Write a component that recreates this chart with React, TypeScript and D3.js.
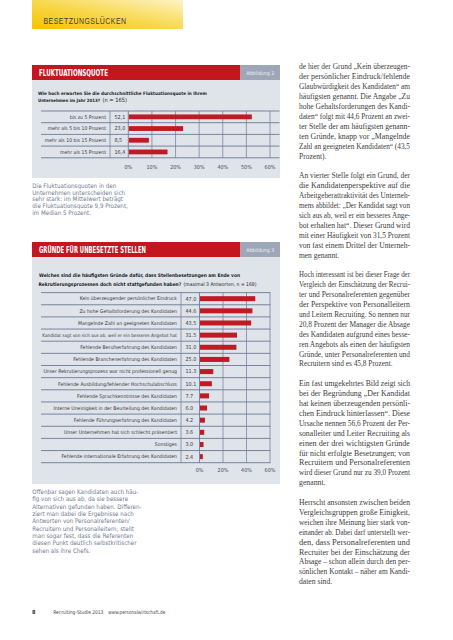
import React, { useEffect, useRef } from "react";
import * as d3 from "d3";

const W = 453;
const H = 640;

// ---------- data ----------
const fluktCategories = [
  "bis zu 5 Prozent",
  "mehr als 5 bis 10 Prozent",
  "mehr als 10 bis 15 Prozent",
  "mehr als 15 Prozent",
];
const fluktValues = [52.1, 23.0, 8.5, 16.4];
const fluktTicks = [0, 10, 20, 30, 40, 50, 60];

const reasonCategories = [
  "Kein überzeugender persönlicher Eindruck",
  "Zu hohe Gehaltsforderung des Kandidaten",
  "Mangelnde Zahl an geeigneten Kandidaten",
  "Kandidat sagt von sich aus ab, weil er ein besseres Angebot hat",
  "Fehlende Berufserfahrung des Kandidaten",
  "Fehlende Branchenerfahrung des Kandidaten",
  "Unser Rekrutierungsprozess war nicht professionell genug",
  "Fehlende Ausbildung/fehlender Hochschulabschluss",
  "Fehlende Sprachkenntnisse des Kandidaten",
  "Interne Uneinigkeit in der Beurteilung des Kandidaten",
  "Fehlende Führungserfahrung des Kandidaten",
  "Unser Unternehmen hat sich schlecht präsentiert",
  "Sonstiges",
  "Fehlende internationale Erfahrung des Kandidaten",
];
const reasonValues = [47.0, 44.6, 43.5, 31.5, 31.0, 25.0, 11.3, 10.1, 7.7, 6.0, 4.2, 3.6, 3.0, 2.4];
const reasonTicks = [0, 20, 40, 60];

const caption1 = [
  "Die Fluktuationsquoten in den",
  "Unternehmen unterscheiden sich",
  "sehr stark: im Mittelwert beträgt",
  "die Fluktuationsquote 9,9 Prozent,",
  "im Median 5 Prozent.",
];
const caption2 = [
  "Offenbar sagen Kandidaten auch häu-",
  "fig von sich aus ab, da sie bessere",
  "Alternativen gefunden haben. Differen-",
  "ziert man dabei die Ergebnisse nach",
  "Antworten von Personalreferenten/",
  "Recruitern und Personalleitern, stellt",
  "man sogar fest, dass die Referenten",
  "diesen Punkt deutlich selbstkritischer",
  "sehen als ihre Chefs.",
];

const bodyParagraphs = [
  [
    "de hier der Grund „Kein überzeugen-",
    "der persönlicher Eindruck/fehlende",
    "Glaubwürdigkeit des Kandidaten“ am",
    "häufigsten genannt. Die Angabe „Zu",
    "hohe Gehaltsforderungen des Kandi-",
    "daten“ folgt mit 44,6 Prozent an zwei-",
    "ter Stelle der am häufigsten genann-",
    "ten Gründe, knapp vor „Mangelnde",
    "Zahl an geeigneten Kandidaten“ (43,5",
    "Prozent).",
  ],
  [
    "An vierter Stelle folgt ein Grund, der",
    "die Kandidatenperspektive auf die",
    "Arbeitgeberattraktivität des Unterneh-",
    "mens abbildet: „Der Kandidat sagt von",
    "sich aus ab, weil er ein besseres Ange-",
    "bot erhalten hat“. Dieser Grund wird",
    "mit einer Häufigkeit von 31,5 Prozent",
    "von fast einem Drittel der Unterneh-",
    "men genannt.",
  ],
  [
    "Hoch interessant ist bei dieser Frage der",
    "Vergleich der Einschätzung der Recrui-",
    "ter und Personalreferenten gegenüber",
    "der Perspektive von Personalleitern",
    "und Leitern Recruiting. So nennen nur",
    "20,8 Prozent der Manager die Absage",
    "des Kandidaten aufgrund eines besse-",
    "ren Angebots als einen der häufigsten",
    "Gründe, unter Personalreferenten und",
    "Recruitern sind es 45,8 Prozent.",
  ],
  [
    "Ein fast umgekehrtes Bild zeigt sich",
    "bei der Begründung „Der Kandidat",
    "hat keinen überzeugenden persönli-",
    "chen Eindruck hinterlassen“. Diese",
    "Ursache nennen 56,6 Prozent der Per-",
    "sonalleiter und Leiter Recruiting als",
    "einen der drei wichtigsten Gründe",
    "für nicht erfolgte Besetzungen; von",
    "Recruitern und Personalreferenten",
    "wird dieser Grund nur zu 39,0 Prozent",
    "genannt.",
  ],
  [
    "Herrscht ansonsten zwischen beiden",
    "Vergleichsgruppen große Einigkeit,",
    "weichen ihre Meinung hier stark von-",
    "einander ab. Dabei darf unterstellt wer-",
    "den, dass Personalreferenten und",
    "Recruiter bei der Einschätzung der",
    "Absage – schon allein durch den per-",
    "sönlichen Kontakt – näher am Kandi-",
    "daten sind.",
  ],
];

// ---------- styles ----------
const SANS = "'Liberation Sans Narrow','DejaVu Sans Condensed','Roboto Condensed',Roboto,'Liberation Sans',sans-serif";
const SERIF = "'Liberation Serif','DejaVu Serif',serif";
const RED = "#c4161f";
const BAR = "#c01a24";
const PANEL = "#dfe3ea";
const GRID = "#7a88a2";
const ABB = "#9ea7b8";
const CAPTION = "#6f7b91";

type Sel = d3.Selection<any, any, any, any>;

function shrinkToFit(t: Sel, maxW: number, size: number) {
  const n = t.node() as SVGTextElement;
  const w = n.getComputedTextLength();
  if (w > maxW) t.attr("font-size", (size * maxW) / w);
}
function sizeToWidth(t: Sel, target: number, size: number) {
  const n = t.node() as SVGTextElement;
  const w = n.getComputedTextLength();
  if (w > 0) t.attr("font-size", (size * target) / w);
}
function fitExact(t: Sel, w: number) {
  t.attr("textLength", w).attr("lengthAdjust", "spacingAndGlyphs");
}

interface BarCfg {
  cats: string[];
  vals: number[];
  ticks: number[];
  top: number;
  rowH: number;
  left: number;
  colX: number;
  x0: number;
  x60: number;
  lineRight: number;
  barH: number;
  tickY: number;
  fmt: (v: number) => string;
}

function drawBars(svg: Sel, c: BarCfg) {
  const g = svg.append("g");
  const bottom = c.top + c.rowH * c.cats.length;
  const y = d3.scaleBand<string>().domain(c.cats).range([c.top, bottom]).padding(0);
  const x = d3.scaleLinear().domain([0, 60]).range([c.x0, c.x60]);

  g.selectAll("line.vg")
    .data(c.ticks)
    .join("line")
    .attr("x1", (d) => x(d))
    .attr("x2", (d) => x(d))
    .attr("y1", c.top)
    .attr("y2", bottom)
    .attr("stroke", GRID)
    .attr("stroke-width", (d) => (d === 0 ? 1 : 0.8));
  g.append("line")
    .attr("x1", c.colX)
    .attr("x2", c.colX)
    .attr("y1", c.top)
    .attr("y2", bottom)
    .attr("stroke", GRID)
    .attr("stroke-width", 0.8);
  g.selectAll("line.hg")
    .data(d3.range(c.cats.length + 1))
    .join("line")
    .attr("x1", c.left)
    .attr("x2", c.lineRight)
    .attr("y1", (i) => c.top + i * c.rowH)
    .attr("y2", (i) => c.top + i * c.rowH)
    .attr("stroke", "#6c7a94")
    .attr("stroke-width", 0.9);

  g.selectAll("rect.bar")
    .data(c.vals)
    .join("rect")
    .attr("x", x(0) + 0.5)
    .attr("y", (d, i) => (y(c.cats[i]) as number) + (c.rowH - c.barH) / 2)
    .attr("width", (d) => x(d) - x(0))
    .attr("height", c.barH)
    .attr("fill", BAR);

  c.cats.forEach((cat) => {
    const t = g
      .append("text")
      .attr("x", c.colX - 4)
      .attr("y", (y(cat) as number) + c.rowH / 2 + 1.8)
      .attr("text-anchor", "end")
      .attr("font-family", SANS)
      .attr("font-size", 5.1)
      .attr("fill", "#3a3a3a")
      .text(cat);
    shrinkToFit(t, c.colX - 4 - c.left - 1, 5.1);
  });
  c.vals.forEach((v, i) => {
    g.append("text")
      .attr("x", c.colX + 4.5)
      .attr("y", (y(c.cats[i]) as number) + c.rowH / 2 + 1.9)
      .attr("font-family", SANS)
      .attr("font-size", 5.4)
      .attr("fill", "#3a3a3a")
      .text(c.fmt(v));
  });
  g.selectAll("text.tick")
    .data(c.ticks)
    .join("text")
    .attr("x", (d) => x(d))
    .attr("y", c.tickY)
    .attr("text-anchor", "middle")
    .attr("font-family", SANS)
    .attr("font-size", 5.4)
    .attr("fill", "#4a4a4a")
    .text((d) => `${d}%`);
}

function titleBar(svg: Sel, y0: number, title: string, titleW: number, abb: string) {
  svg.append("rect").attr("x", 32).attr("y", y0).attr("width", 208.5).attr("height", 15).attr("fill", RED);
  svg.append("rect").attr("x", 240.5).attr("y", y0).attr("width", 39.5).attr("height", 15).attr("fill", ABB);
  const t = svg
    .append("text")
    .attr("x", 39)
    .attr("y", y0 + 10.8)
    .attr("font-family", SANS)
    .attr("font-weight", "bold")
    .attr("font-size", 8.4)
    .attr("fill", "#ffffff")
    .text(title);
  fitExact(t, titleW);
  const a = svg
    .append("text")
    .attr("x", 260.2)
    .attr("y", y0 + 9.6)
    .attr("text-anchor", "middle")
    .attr("font-family", SANS)
    .attr("font-size", 5.2)
    .attr("fill", "#eef0f4")
    .text(abb);
  fitExact(a, 28);
}

function qText(svg: Sel, x: number, y: number, txt: string, bold: boolean, w: number) {
  const t = svg
    .append("text")
    .attr("x", x)
    .attr("y", y)
    .attr("font-family", SANS)
    .attr("font-weight", bold ? "bold" : "normal")
    .attr("font-size", 5.4)
    .attr("fill", "#232323")
    .text(txt);
  sizeToWidth(t, w, 5.4);
}

export default function App() {
  const ref = useRef<SVGSVGElement>(null);

  useEffect(() => {
    const svg = d3.select(ref.current) as Sel;
    svg.selectAll("*").remove();

    svg.append("rect").attr("width", W).attr("height", H).attr("fill", "#ffffff");

    // ---- header ----
    const defs = svg.append("defs");
    const grad = defs
      .append("linearGradient")
      .attr("id", "hdr")
      .attr("x1", 0)
      .attr("y1", 1)
      .attr("x2", 1)
      .attr("y2", 0);
    grad.append("stop").attr("offset", 0).attr("stop-color", "#f4c300");
    grad.append("stop").attr("offset", 0.45).attr("stop-color", "#f8d646");
    grad.append("stop").attr("offset", 1).attr("stop-color", "#fdf3c4");
    svg.append("rect").attr("x", 32).attr("y", 0).attr("width", 151).attr("height", 29).attr("fill", "url(#hdr)");
    const hdr = svg
      .append("text")
      .attr("x", 43.5)
      .attr("y", 24)
      .attr("font-family", "'Liberation Sans','DejaVu Sans',sans-serif")
      .attr("font-size", 8.6)
      .attr("fill", "#3b3b3b")
      .attr("letter-spacing", 0.6)
      .text("BESETZUNGSLÜCKEN");
    fitExact(hdr, 83);

    // ---- chart 1 ----
    titleBar(svg, 65, "FLUKTUATIONSQUOTE", 69, "Abbildung 2");
    svg.append("rect").attr("x", 32).attr("y", 80).attr("width", 248).attr("height", 98).attr("fill", PANEL);
    qText(svg, 38, 95.3, "Wie hoch erwarten Sie die durchschnittliche Fluktuationsquote in Ihrem", true, 169);
    qText(svg, 38, 102.3, "Unternehmen im Jahr 2013?", true, 62);
    qText(svg, 102.5, 102.3, "(n = 165)", false, 24.5);

    drawBars(svg, {
      cats: fluktCategories,
      vals: fluktValues,
      ticks: fluktTicks,
      top: 111,
      rowH: 11.7,
      left: 41,
      colX: 110,
      x0: 128.3,
      x60: 270,
      lineRight: 279.5,
      barH: 4.8,
      tickY: 168.8,
      fmt: (v) => v.toFixed(1).replace(".", ","),
    });

    caption1.forEach((line, i) => {
      svg
        .append("text")
        .attr("x", 32.3)
        .attr("y", 188 + i * 6.7)
        .attr("font-family", SANS)
        .attr("font-size", 6.2)
        .attr("fill", CAPTION)
        .text(line);
    });

    // ---- chart 2 ----
    titleBar(svg, 242, "GRÜNDE FÜR UNBESETZTE STELLEN", 107, "Abbildung 3");
    svg.append("rect").attr("x", 32).attr("y", 257).attr("width", 248).attr("height", 227).attr("fill", PANEL);
    qText(svg, 39, 277.4, "Welches sind die häufigsten Gründe dafür, dass Stellenbesetzungen am Ende von", true, 201);
    qText(svg, 38.5, 285.8, "Rekrutierungsprozessen doch nicht stattgefunden haben?", true, 143);
    qText(svg, 183.5, 285.8, "(maximal 3 Antworten, n = 168)", false, 73);

    drawBars(svg, {
      cats: reasonCategories,
      vals: reasonValues,
      ticks: reasonTicks,
      top: 292.6,
      rowH: 12.15,
      left: 41,
      colX: 181,
      x0: 199.5,
      x60: 270,
      lineRight: 270.5,
      barH: 5,
      tickY: 472,
      fmt: (v) => v.toFixed(1),
    });

    caption2.forEach((line, i) => {
      svg
        .append("text")
        .attr("x", 32.3)
        .attr("y", 494 + i * 7.32)
        .attr("font-family", SANS)
        .attr("font-size", 6.2)
        .attr("fill", CAPTION)
        .text(line);
    });

    // ---- footer ----
    svg
      .append("text")
      .attr("x", 32)
      .attr("y", 613.7)
      .attr("font-family", SANS)
      .attr("font-weight", "bold")
      .attr("font-size", 5.6)
      .attr("fill", "#333")
      .text("8");
    const f1 = svg
      .append("text")
      .attr("x", 53.3)
      .attr("y", 613.7)
      .attr("font-family", SANS)
      .attr("font-size", 5.2)
      .attr("fill", "#444")
      .text("Recruiting-Studie 2013");
    fitExact(f1, 50);
    const f2 = svg
      .append("text")
      .attr("x", 108.3)
      .attr("y", 613.7)
      .attr("font-family", SANS)
      .attr("font-size", 5.2)
      .attr("fill", "#444")
      .text("www.personalwirtschaft.de");
    fitExact(f2, 57);

    // ---- body text (right column, justified) ----
    const colX = 299;
    const colW = 111;
    const lh = 9.9;
    let lineIdx = 0;
    bodyParagraphs.forEach((para) => {
      const nodes: { t: Sel; w: number }[] = [];
      para.forEach((line) => {
        const t = svg
          .append("text")
          .attr("x", colX)
          .attr("y", 69.4 + lineIdx * lh)
          .attr("font-family", SERIF)
          .attr("font-size", 7.6)
          .attr("fill", "#3c3c3c")
          .text(line);
        nodes.push({ t, w: (t.node() as SVGTextElement).getComputedTextLength() });
        lineIdx++;
      });
      const ratios = nodes.slice(0, -1).map((n) => colW / n.w);
      const avg = d3.mean(ratios) ?? 1;
      nodes.forEach((n, i) => {
        if (i < nodes.length - 1) fitExact(n.t, colW);
        else fitExact(n.t, Math.min(colW, n.w * avg));
      });
      lineIdx++;
    });
  }, []);

  return (
    <svg
      ref={ref}
      width={W}
      height={H}
      style={{ position: "absolute", left: 0, top: 0, display: "block" }}
    />
  );
}
